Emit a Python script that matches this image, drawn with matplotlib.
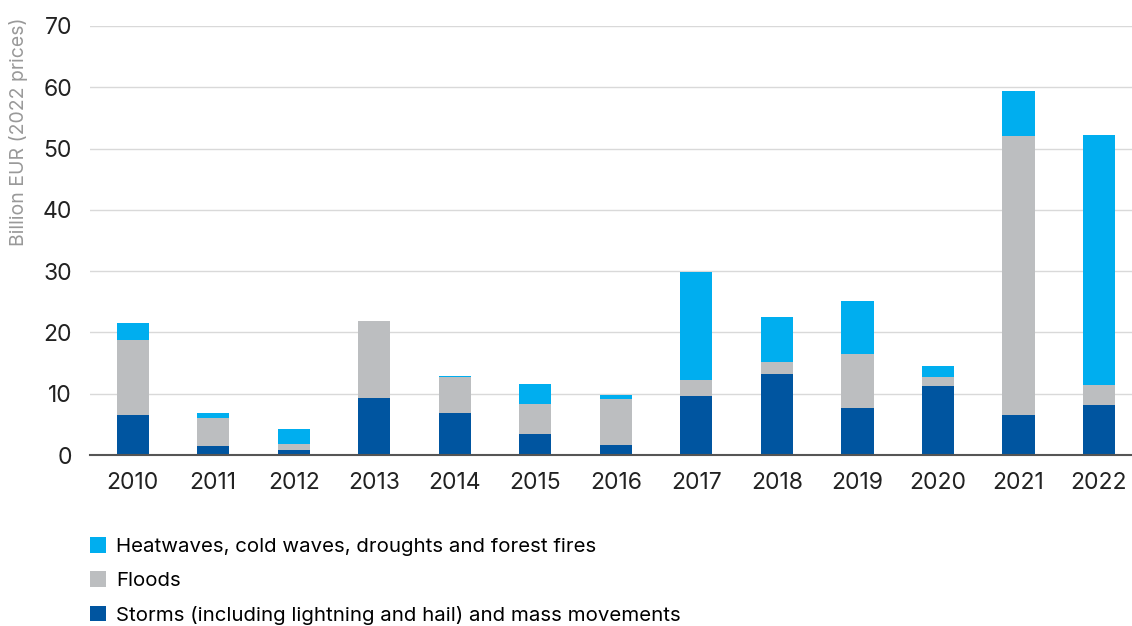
import numpy as np
import matplotlib
matplotlib.use("Agg")
import matplotlib.pyplot as plt
from matplotlib.patches import Patch

plt.rcParams["font.family"] = ["Inter", "DejaVu Sans"]

years = ["2010", "2011", "2012", "2013", "2014", "2015", "2016",
         "2017", "2018", "2019", "2020", "2021", "2022"]
storms = [6.6, 1.5, 0.8, 9.35, 6.9, 3.4, 1.6, 9.7, 13.3, 7.7, 11.3, 6.6, 8.2]
floods = [12.2, 4.5, 1.05, 12.45, 5.8, 4.9, 7.5, 2.5, 1.9, 8.8, 1.5, 45.4, 3.2]
heat = [2.7, 0.8, 2.35, 0.1, 0.2, 3.3, 0.7, 17.7, 7.4, 8.6, 1.7, 7.4, 40.8]

labels = [
    "Heatwaves, cold waves, droughts and forest fires",
    "Floods",
    "Storms (including lightning and hail) and mass movements",
]
colors = ["#00AEEF", "#BCBEC0", "#0055A0"]

fig = plt.figure(figsize=(11.32, 6.26), dpi=100)
ax = fig.add_axes([0.0795, 0.273, 0.9205, 0.6855])

x = np.arange(len(years))
w = 0.4
storms = np.array(storms)
floods = np.array(floods)
heat = np.array(heat)
ax.bar(x, storms, w, color=colors[2], zorder=3)
ax.bar(x, floods, w, bottom=storms, color=colors[1], zorder=3)
ax.bar(x, heat, w, bottom=storms + floods, color=colors[0], zorder=3)

ax.set_xlim(-0.53, 12.41)
ax.set_ylim(0, 70)
ax.set_yticks(range(0, 80, 10))
ax.set_xticks(x)
ax.set_xticklabels(years)
ax.grid(axis="y", color="#d9d9d9", lw=1, zorder=0)
for s in ["top", "right", "left"]:
    ax.spines[s].set_visible(False)
ax.spines["bottom"].set_color("#555555")
ax.spines["bottom"].set_linewidth(1.5)
ax.spines["bottom"].set_zorder(4)
ax.tick_params(axis="both", length=0, labelsize=16.5, colors="#222222")
ax.tick_params(axis="y", pad=13)
ax.tick_params(axis="x", pad=12)

fig.text(0.016, 0.789, "Billion EUR (2022 prices)", rotation=90, ha="center",
         va="center", fontsize=14, color="#999999")

handles = [Patch(facecolor=c, edgecolor="none") for c in colors]
fig.legend(handles, labels, loc="upper left", bbox_to_anchor=(0.072, 0.155),
           frameon=False, fontsize=14.7, handlelength=0.8, handleheight=0.8,
           handletextpad=0.5, labelspacing=0.75, borderaxespad=0)

fig.savefig("out.png", dpi=100)
